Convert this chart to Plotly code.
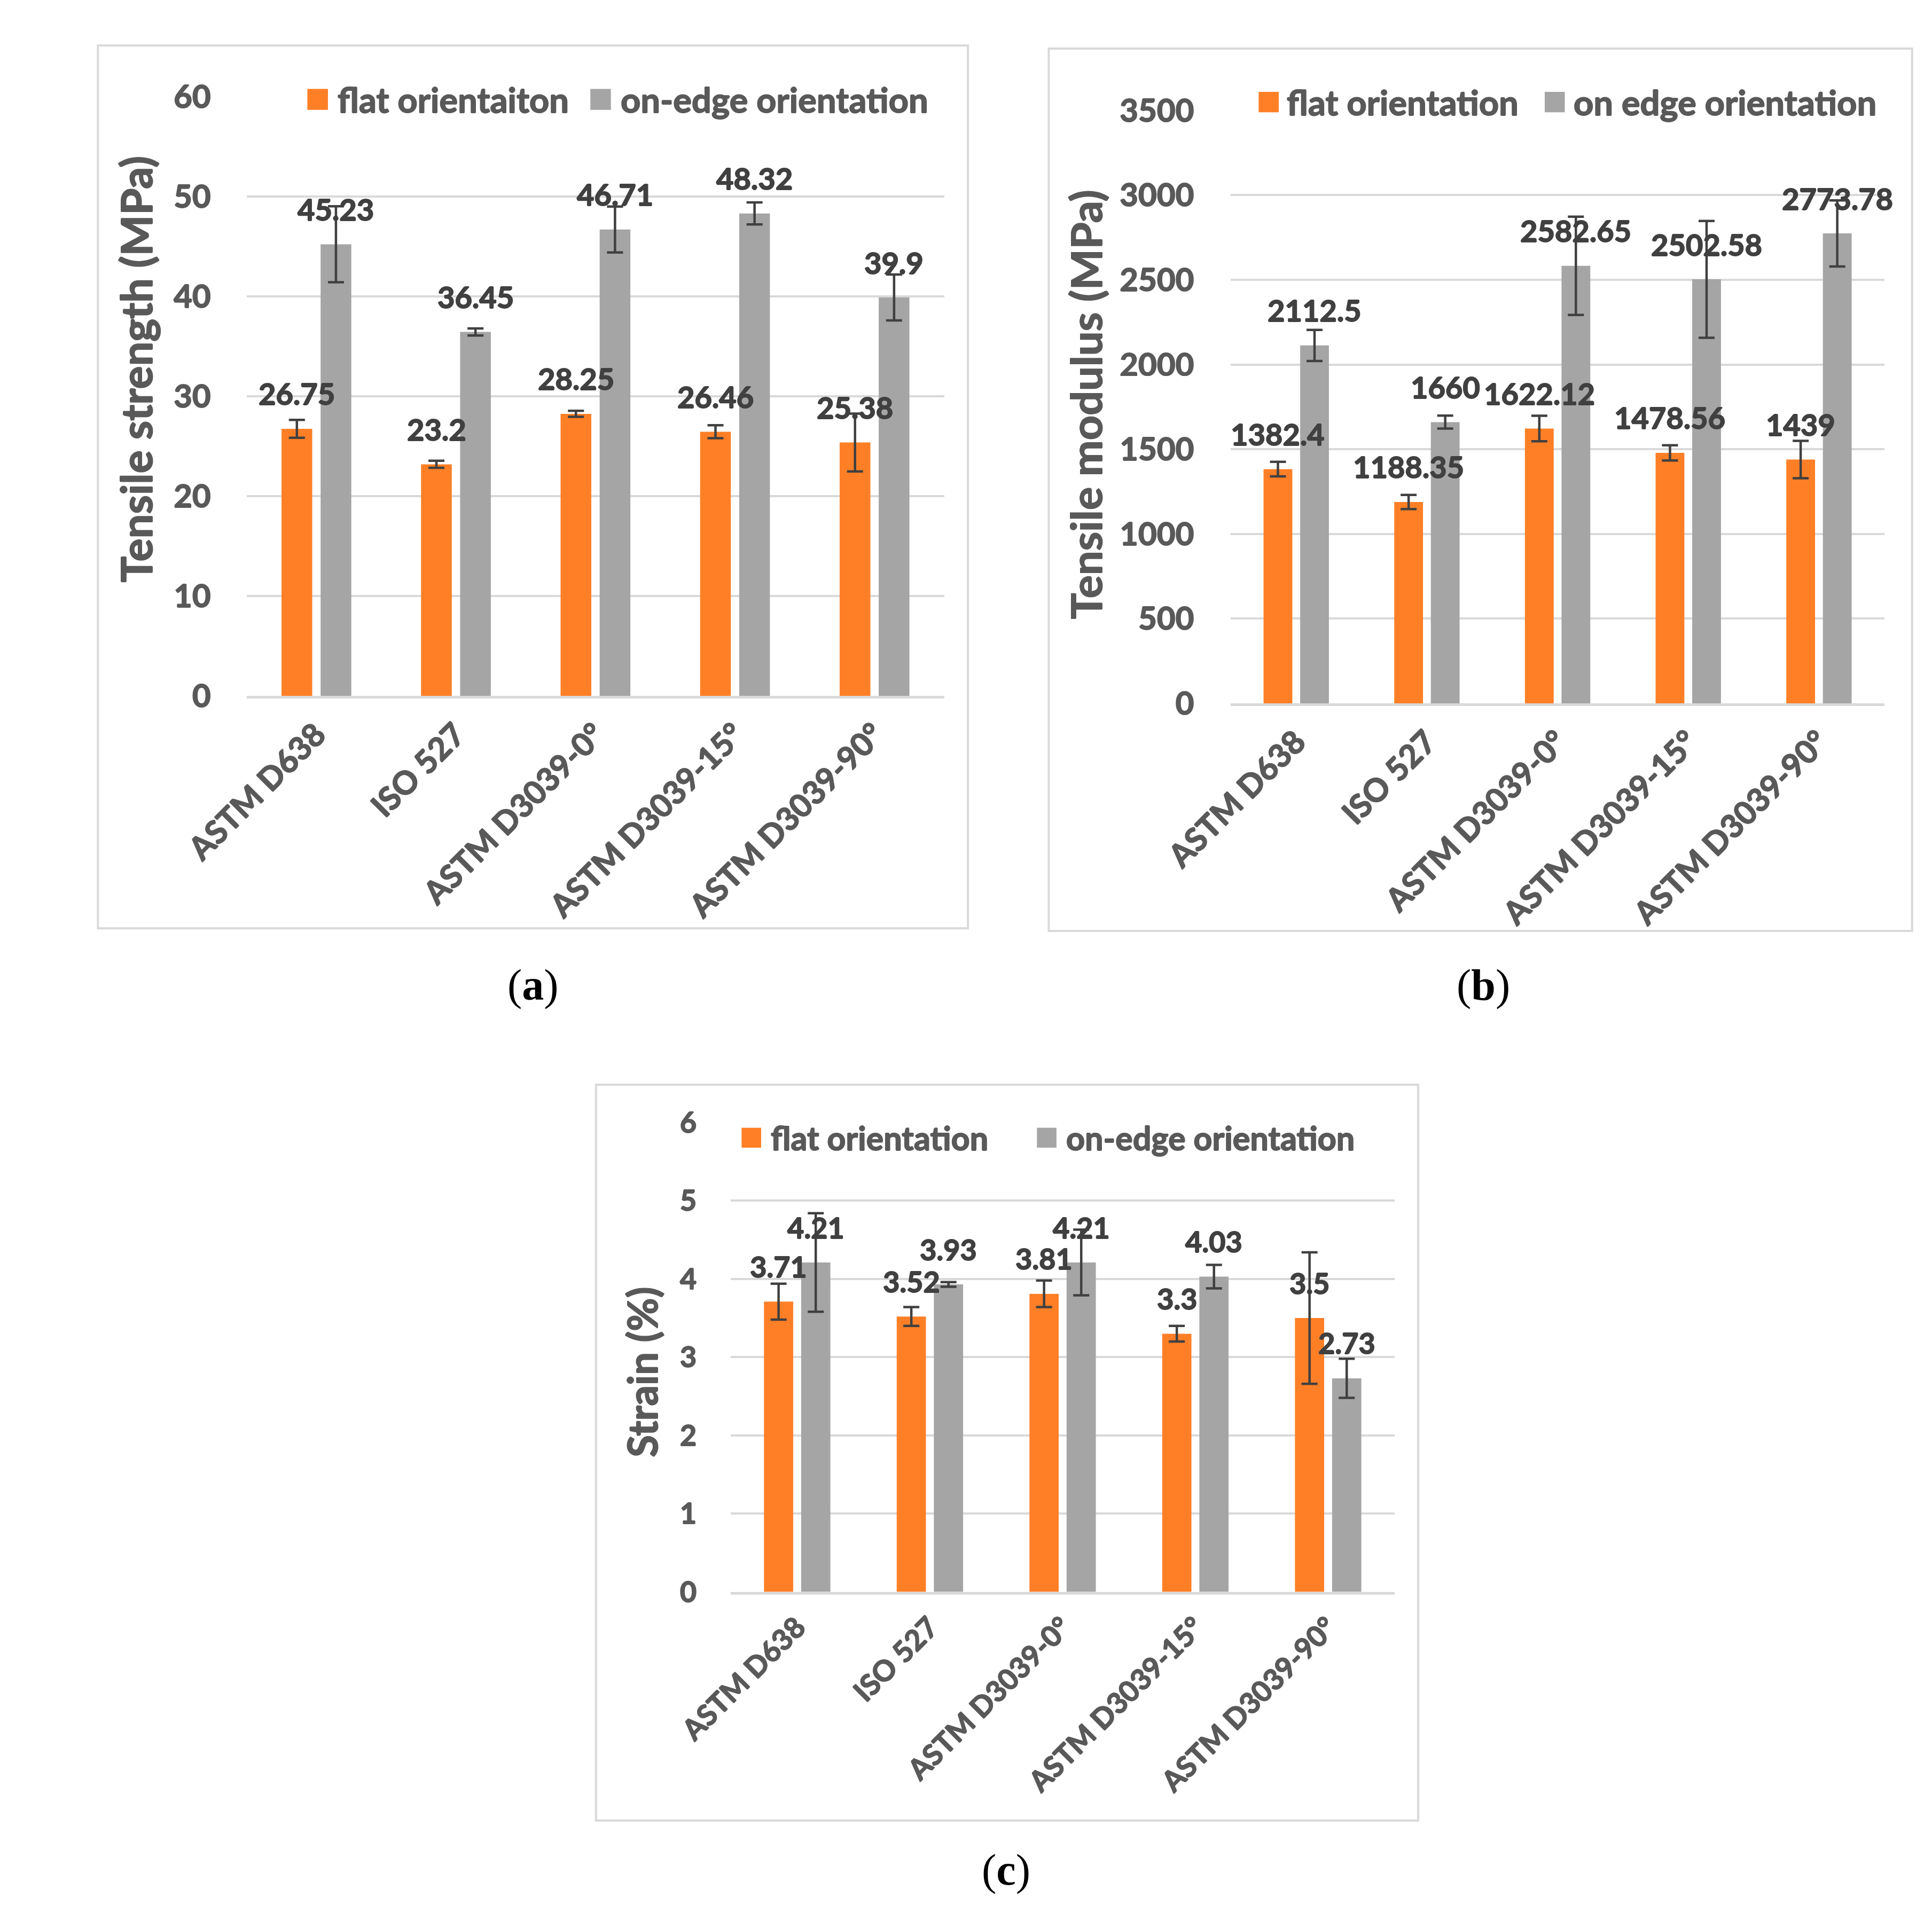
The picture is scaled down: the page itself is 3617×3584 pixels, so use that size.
import plotly.graph_objects as go

W, H = 3617, 3584

categories = ["ASTM D638", "ISO 527", "ASTM D3039-0°", "ASTM D3039-15°", "ASTM D3039-90°"]

# (a) tensile strength, MPa
strength_flat = [26.75, 23.2, 28.25, 26.46, 25.38]
strength_flat_err = [0.9, 0.35, 0.3, 0.65, 2.9]
strength_edge = [45.23, 36.45, 46.71, 48.32, 39.9]
strength_edge_err = [3.8, 0.35, 2.3, 1.1, 2.3]

# (b) tensile modulus, MPa
modulus_flat = [1382.4, 1188.35, 1622.12, 1478.56, 1439]
modulus_flat_err = [43, 42, 75, 45, 110]
modulus_edge = [2112.5, 1660, 2582.65, 2502.58, 2773.78]
modulus_edge_err = [92, 38, 290, 345, 195]

# (c) strain, %
strain_flat = [3.71, 3.52, 3.81, 3.3, 3.5]
strain_flat_err = [0.23, 0.12, 0.17, 0.1, 0.84]
strain_edge = [4.21, 3.93, 4.21, 4.03, 2.73]
strain_edge_err = [0.63, 0.03, 0.42, 0.15, 0.25]

FLAT = "#FF7F27"
EDGE = "#A5A5A5"
TXT = "#595959"
LBL = "#404040"
GRID = "#D9D9D9"
FONT = "Lato"


def px(x):
    return x / W


def py(y):
    return 1 - y / H


def heavy(color, d=0.9):
    # thicken the bold face a little, the original is Calibri Bold
    return f"{d}px 0 0 {color}, -{d}px 0 0 {color}, 0 {d}px 0 {color}, 0 -{d}px 0 {color}"


def font(size, color):
    return dict(family=FONT, size=size, color=color, weight="bold", shadow=heavy(color))


panels = [
    dict(n="", flat=strength_flat, flat_err=strength_flat_err, edge=strength_edge, edge_err=strength_edge_err,
         names=["flat orientaiton", "on-edge orientation"], ymax=60, dtick=10,
         plot=(333, 138, 1689, 1283), box=(44, 40, 1735, 1727), title="Tensile strength (MPa)",
         title_pos=(117, 658), tick=60, lab=56, ttl=81, leg=65, standoff=66,
         legend=(451, 508, 1001, 1058, 143), sq=40, caption="(<b>a</b>)", cap_pos=(890, 1835)),
    dict(n="2", flat=modulus_flat, flat_err=modulus_flat_err, edge=modulus_edge, edge_err=modulus_edge_err,
         names=["flat orientation", "on edge orientation"], ymax=3500, dtick=500,
         plot=(2246, 164, 3516, 1297), box=(1892, 46, 3570, 1732), title="Tensile modulus (MPa)",
         title_pos=(1963, 726), tick=60, lab=56, ttl=81, leg=65, standoff=68,
         legend=(2300, 2353, 2856, 2910, 148), sq=39, caption="(<b>b</b>)", cap_pos=(2737, 1835)),
    dict(n="3", flat=strain_flat, flat_err=strain_flat_err, edge=strain_edge, edge_err=strain_edge_err,
         names=["flat orientation", "on-edge orientation"], ymax=6, dtick=1,
         plot=(1274, 2098, 2564, 2995), box=(1012, 2026, 2610, 3432), title="Strain (%)",
         title_pos=(1101, 2575), tick=54, lab=54, ttl=76, leg=61, standoff=63,
         legend=(1295, 1350, 1869, 1924, 2127), sq=38, caption="(<b>c</b>)", cap_pos=(1809, 3526)),
]

fig = go.Figure()
annotations = []
shapes = []

for p in panels:
    xa = "x" + p["n"]
    ya = "y" + p["n"]
    for vals, errs, color, name, off in [
        (p["flat"], p["flat_err"], FLAT, p["names"][0], -0.14),
        (p["edge"], p["edge_err"], EDGE, p["names"][1], 0.14),
    ]:
        fig.add_trace(go.Bar(
            x=categories, y=vals, name=name, marker_color=color, marker_line_width=0,
            error_y=dict(type="data", array=errs, color=LBL, thickness=4.5, width=15),
            xaxis=xa, yaxis=ya, showlegend=False,
        ))
        for i, v in enumerate(vals):
            annotations.append(dict(
                x=i + off, y=v, xref=xa, yref=ya, text=f"{v:g}", showarrow=False,
                yanchor="middle", yshift=66, font=font(p["lab"], LBL),
            ))

    x0, y0, x1, y1 = p["plot"]
    axis_x = dict(
        domain=[px(x0), px(x1)], anchor=ya, type="category", range=[-0.5, 4.5],
        tickangle=-45, ticks="", showgrid=False, showline=True, linecolor=GRID, linewidth=5,
        ticklabelstandoff=8, tickfont=font(p["tick"], TXT),
    )
    axis_y = dict(
        domain=[py(y1), py(y0)], anchor=xa, range=[0, p["ymax"]], dtick=p["dtick"],
        showgrid=True, gridcolor=GRID, gridwidth=4, zeroline=False, showline=False, ticks="",
        ticklabelstandoff=p["standoff"], tickfont=font(p["tick"], TXT),
    )
    fig.update_layout({"xaxis" + p["n"]: axis_x, "yaxis" + p["n"]: axis_y})

    # panel frame
    bx0, by0, bx1, by1 = p["box"]
    shapes.append(dict(type="rect", xref="paper", yref="paper", x0=px(bx0), y0=py(by1), x1=px(bx1), y1=py(by0),
                       line=dict(color=GRID, width=4), fillcolor="rgba(0,0,0,0)", layer="below"))

    # axis title
    tx, ty = p["title_pos"]
    annotations.append(dict(x=px(tx), y=py(ty), xref="paper", yref="paper", text=p["title"], showarrow=False,
                            textangle=-90, xanchor="center", yanchor="middle", font=font(p["ttl"], TXT)))

    # legend row
    sq1, t1, sq2, t2, ly = p["legend"]
    s = p["sq"]
    for sx, tx_, color, name in [(sq1, t1, FLAT, p["names"][0]), (sq2, t2, EDGE, p["names"][1])]:
        shapes.append(dict(type="rect", xref="paper", yref="paper", x0=px(sx), x1=px(sx + s),
                           y0=py(ly + s / 2), y1=py(ly - s / 2), fillcolor=color, line=dict(width=0)))
        annotations.append(dict(x=px(tx_), y=py(ly), xref="paper", yref="paper", text=name, showarrow=False,
                                xanchor="left", yanchor="middle", font=font(p["leg"], TXT)))

    cx, cy = p["cap_pos"]
    annotations.append(dict(x=px(cx), y=py(cy), xref="paper", yref="paper", text=p["caption"], showarrow=False,
                            xanchor="center", yanchor="middle",
                            font=dict(family="Liberation Serif", size=82, color="black")))

fig.update_layout(
    width=W, height=H, autosize=False,
    margin=dict(l=0, r=0, t=0, b=0),
    paper_bgcolor="white", plot_bgcolor="white",
    barmode="group", bargap=0.44, bargroupgap=0.214,
    showlegend=False,
    annotations=annotations, shapes=shapes,
)

fig.write_html("out.html")
